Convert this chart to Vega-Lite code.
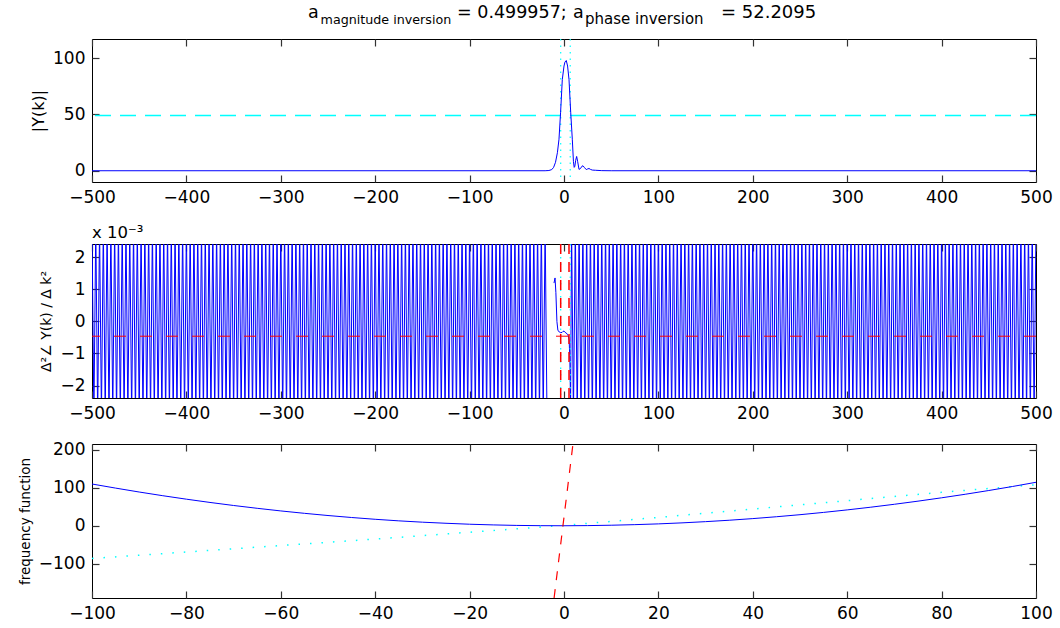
{
"$schema": "https://vega.github.io/schema/vega-lite/v6.json",
"padding": {"left": 17, "top": 3, "right": 0, "bottom": 0},
"background": "white",
"spacing": 18,
"config": {
  "font": "DejaVu Sans",
  "view": {"stroke": "black", "strokeWidth": 1},
  "axis": {"labelFont": "DejaVu Sans", "labelFontSize": 17, "labelColor": "black", "tickColor": "#333", "tickWidth": 1.2, "tickSize": -7, "labelPadding": 14, "domain": false, "grid": false, "labelFlush": false, "labelOverlap": false, "titleFont": "DejaVu Sans", "titleFontWeight": "normal", "titleColor": "black", "titleFontSize": 15, "titlePadding": 6},
  "title": {"font": "DejaVu Sans", "fontWeight": "normal", "color": "black"}
},
"datasets": {
  "p1": [{"k":-500,"m":0},{"k":-20,"m":0},{"k":-16,"m":0.2},{"k":-13,"m":1},{"k":-11,"m":3},{"k":-9,"m":7.5},{"k":-7,"m":16},{"k":-5.3,"m":28},{"k":-3.6,"m":52},{"k":-1.8,"m":81},{"k":0,"m":93},{"k":1,"m":96.5},{"k":2.4,"m":97.9},{"k":3.8,"m":93},{"k":5.3,"m":81},{"k":7.1,"m":52},{"k":8.8,"m":28},{"k":10,"m":8},{"k":10.8,"m":3},{"k":11.5,"m":4},{"k":12.3,"m":9},{"k":13.4,"m":12.7},{"k":14.5,"m":8},{"k":15.9,"m":1.2},{"k":17.5,"m":2},{"k":19,"m":4},{"k":20.1,"m":4.4},{"k":21.5,"m":3},{"k":23.6,"m":1},{"k":25,"m":1.6},{"k":26.5,"m":2},{"k":28,"m":1.2},{"k":30,"m":0.6},{"k":33.6,"m":0.4},{"k":40,"m":0.1},{"k":50,"m":0},{"k":500,"m":0}],
  "p2L": [
{"k":-500,"v":3},{"k":-498,"v":-3},{"k":-496,"v":3},{"k":-494,"v":-3},{"k":-492,"v":3},{"k":-490,"v":-3},{"k":-488,"v":3},{"k":-486,"v":-3},{"k":-484,"v":3},{"k":-482,"v":-3},
{"k":-480,"v":3},{"k":-478,"v":-3},{"k":-476,"v":3},{"k":-474,"v":-3},{"k":-472,"v":3},{"k":-470,"v":-3},{"k":-468,"v":3},{"k":-466,"v":-3},{"k":-464,"v":3},{"k":-462,"v":-3},
{"k":-460,"v":3},{"k":-458,"v":-3},{"k":-456,"v":3},{"k":-454,"v":-3},{"k":-452,"v":3},{"k":-450,"v":-3},{"k":-448,"v":3},{"k":-446,"v":-3},{"k":-444,"v":3},{"k":-442,"v":-3},
{"k":-440,"v":3},{"k":-438,"v":-3},{"k":-436,"v":3},{"k":-434,"v":-3},{"k":-432,"v":3},{"k":-430,"v":-3},{"k":-428,"v":3},{"k":-426,"v":-3},{"k":-424,"v":3},{"k":-422,"v":-3},
{"k":-420,"v":3},{"k":-418,"v":-3},{"k":-416,"v":3},{"k":-414,"v":-3},{"k":-412,"v":3},{"k":-410,"v":-3},{"k":-408,"v":3},{"k":-406,"v":-3},{"k":-404,"v":3},{"k":-402,"v":-3},
{"k":-400,"v":3},{"k":-398,"v":-3},{"k":-396,"v":3},{"k":-394,"v":-3},{"k":-392,"v":3},{"k":-390,"v":-3},{"k":-388,"v":3},{"k":-386,"v":-3},{"k":-384,"v":3},{"k":-382,"v":-3},
{"k":-380,"v":3},{"k":-378,"v":-3},{"k":-376,"v":3},{"k":-374,"v":-3},{"k":-372,"v":3},{"k":-370,"v":-3},{"k":-368,"v":3},{"k":-366,"v":-3},{"k":-364,"v":3},{"k":-362,"v":-3},
{"k":-360,"v":3},{"k":-358,"v":-3},{"k":-356,"v":3},{"k":-354,"v":-3},{"k":-352,"v":3},{"k":-350,"v":-3},{"k":-348,"v":3},{"k":-346,"v":-3},{"k":-344,"v":3},{"k":-342,"v":-3},
{"k":-340,"v":3},{"k":-338,"v":-3},{"k":-336,"v":3},{"k":-334,"v":-3},{"k":-332,"v":3},{"k":-330,"v":-3},{"k":-328,"v":3},{"k":-326,"v":-3},{"k":-324,"v":3},{"k":-322,"v":-3},
{"k":-320,"v":3},{"k":-318,"v":-3},{"k":-316,"v":3},{"k":-314,"v":-3},{"k":-312,"v":3},{"k":-310,"v":-3},{"k":-308,"v":3},{"k":-306,"v":-3},{"k":-304,"v":3},{"k":-302,"v":-3},
{"k":-300,"v":3},{"k":-298,"v":-3},{"k":-296,"v":3},{"k":-294,"v":-3},{"k":-292,"v":3},{"k":-290,"v":-3},{"k":-288,"v":3},{"k":-286,"v":-3},{"k":-284,"v":3},{"k":-282,"v":-3},
{"k":-280,"v":3},{"k":-278,"v":-3},{"k":-276,"v":3},{"k":-274,"v":-3},{"k":-272,"v":3},{"k":-270,"v":-3},{"k":-268,"v":3},{"k":-266,"v":-3},{"k":-264,"v":3},{"k":-262,"v":-3},
{"k":-260,"v":3},{"k":-258,"v":-3},{"k":-256,"v":3},{"k":-254,"v":-3},{"k":-252,"v":3},{"k":-250,"v":-3},{"k":-248,"v":3},{"k":-246,"v":-3},{"k":-244,"v":3},{"k":-242,"v":-3},
{"k":-240,"v":3},{"k":-238,"v":-3},{"k":-236,"v":3},{"k":-234,"v":-3},{"k":-232,"v":3},{"k":-230,"v":-3},{"k":-228,"v":3},{"k":-226,"v":-3},{"k":-224,"v":3},{"k":-222,"v":-3},
{"k":-220,"v":3},{"k":-218,"v":-3},{"k":-216,"v":3},{"k":-214,"v":-3},{"k":-212,"v":3},{"k":-210,"v":-3},{"k":-208,"v":3},{"k":-206,"v":-3},{"k":-204,"v":3},{"k":-202,"v":-3},
{"k":-200,"v":3},{"k":-198,"v":-3},{"k":-196,"v":3},{"k":-194,"v":-3},{"k":-192,"v":3},{"k":-190,"v":-3},{"k":-188,"v":3},{"k":-186,"v":-3},{"k":-184,"v":3},{"k":-182,"v":-3},
{"k":-180,"v":3},{"k":-178,"v":-3},{"k":-176,"v":3},{"k":-174,"v":-3},{"k":-172,"v":3},{"k":-170,"v":-3},{"k":-168,"v":3},{"k":-166,"v":-3},{"k":-164,"v":3},{"k":-162,"v":-3},
{"k":-160,"v":3},{"k":-158,"v":-3},{"k":-156,"v":3},{"k":-154,"v":-3},{"k":-152,"v":3},{"k":-150,"v":-3},{"k":-148,"v":3},{"k":-146,"v":-3},{"k":-144,"v":3},{"k":-142,"v":-3},
{"k":-140,"v":3},{"k":-138,"v":-3},{"k":-136,"v":3},{"k":-134,"v":-3},{"k":-132,"v":3},{"k":-130,"v":-3},{"k":-128,"v":3},{"k":-126,"v":-3},{"k":-124,"v":3},{"k":-122,"v":-3},
{"k":-120,"v":3},{"k":-118,"v":-3},{"k":-116,"v":3},{"k":-114,"v":-3},{"k":-112,"v":3},{"k":-110,"v":-3},{"k":-108,"v":3},{"k":-106,"v":-3},{"k":-104,"v":3},{"k":-102,"v":-3},
{"k":-100,"v":3},{"k":-98,"v":-3},{"k":-96,"v":3},{"k":-94,"v":-3},{"k":-92,"v":3},{"k":-90,"v":-3},{"k":-88,"v":3},{"k":-86,"v":-3},{"k":-84,"v":3},{"k":-82,"v":-3},
{"k":-80,"v":3},{"k":-78,"v":-3},{"k":-76,"v":3},{"k":-74,"v":-3},{"k":-72,"v":3},{"k":-70,"v":-3},{"k":-68,"v":3},{"k":-66,"v":-3},{"k":-64,"v":3},{"k":-62,"v":-3},
{"k":-60,"v":3},{"k":-58,"v":-3},{"k":-56,"v":3},{"k":-54,"v":-3},{"k":-52,"v":3},{"k":-50,"v":-3},{"k":-48,"v":3},{"k":-46,"v":-3},{"k":-44,"v":3},{"k":-42,"v":-3},
{"k":-40,"v":3},{"k":-38,"v":-3},{"k":-36,"v":3},{"k":-34,"v":-3},{"k":-32,"v":3},{"k":-30,"v":-3},{"k":-28,"v":3},{"k":-26,"v":-3},{"k":-24,"v":3},{"k":-22,"v":-3},
{"k":-20,"v":3},{"k":-18,"v":-3}],
  "p2R": [
{"k":-10.6,"v":1.2},{"k":-9.5,"v":1.36},{"k":-8.6,"v":0.9},{"k":-7.5,"v":0.0},{"k":-6.5,"v":-0.27},{"k":-5,"v":-0.33},{"k":-3.5,"v":-0.35},{"k":-2,"v":-0.34},{"k":-1,"v":-0.31},{"k":0,"v":-0.3},{"k":1.2,"v":-0.34},{"k":2.4,"v":-0.36},{"k":3.5,"v":-0.4},{"k":4.6,"v":-0.45},{"k":5.5,"v":-0.6},{"k":6.2,"v":-1.2},{"k":7,"v":-2.6},
{"k":8,"v":3},{"k":10,"v":-3},{"k":12,"v":3},{"k":14,"v":-3},{"k":16,"v":3},{"k":18,"v":-3},
{"k":20,"v":3},{"k":22,"v":-3},{"k":24,"v":3},{"k":26,"v":-3},{"k":28,"v":3},{"k":30,"v":-3},{"k":32,"v":3},{"k":34,"v":-3},{"k":36,"v":3},{"k":38,"v":-3},
{"k":40,"v":3},{"k":42,"v":-3},{"k":44,"v":3},{"k":46,"v":-3},{"k":48,"v":3},{"k":50,"v":-3},{"k":52,"v":3},{"k":54,"v":-3},{"k":56,"v":3},{"k":58,"v":-3},
{"k":60,"v":3},{"k":62,"v":-3},{"k":64,"v":3},{"k":66,"v":-3},{"k":68,"v":3},{"k":70,"v":-3},{"k":72,"v":3},{"k":74,"v":-3},{"k":76,"v":3},{"k":78,"v":-3},
{"k":80,"v":3},{"k":82,"v":-3},{"k":84,"v":3},{"k":86,"v":-3},{"k":88,"v":3},{"k":90,"v":-3},{"k":92,"v":3},{"k":94,"v":-3},{"k":96,"v":3},{"k":98,"v":-3},
{"k":100,"v":3},{"k":102,"v":-3},{"k":104,"v":3},{"k":106,"v":-3},{"k":108,"v":3},{"k":110,"v":-3},{"k":112,"v":3},{"k":114,"v":-3},{"k":116,"v":3},{"k":118,"v":-3},
{"k":120,"v":3},{"k":122,"v":-3},{"k":124,"v":3},{"k":126,"v":-3},{"k":128,"v":3},{"k":130,"v":-3},{"k":132,"v":3},{"k":134,"v":-3},{"k":136,"v":3},{"k":138,"v":-3},
{"k":140,"v":3},{"k":142,"v":-3},{"k":144,"v":3},{"k":146,"v":-3},{"k":148,"v":3},{"k":150,"v":-3},{"k":152,"v":3},{"k":154,"v":-3},{"k":156,"v":3},{"k":158,"v":-3},
{"k":160,"v":3},{"k":162,"v":-3},{"k":164,"v":3},{"k":166,"v":-3},{"k":168,"v":3},{"k":170,"v":-3},{"k":172,"v":3},{"k":174,"v":-3},{"k":176,"v":3},{"k":178,"v":-3},
{"k":180,"v":3},{"k":182,"v":-3},{"k":184,"v":3},{"k":186,"v":-3},{"k":188,"v":3},{"k":190,"v":-3},{"k":192,"v":3},{"k":194,"v":-3},{"k":196,"v":3},{"k":198,"v":-3},
{"k":200,"v":3},{"k":202,"v":-3},{"k":204,"v":3},{"k":206,"v":-3},{"k":208,"v":3},{"k":210,"v":-3},{"k":212,"v":3},{"k":214,"v":-3},{"k":216,"v":3},{"k":218,"v":-3},
{"k":220,"v":3},{"k":222,"v":-3},{"k":224,"v":3},{"k":226,"v":-3},{"k":228,"v":3},{"k":230,"v":-3},{"k":232,"v":3},{"k":234,"v":-3},{"k":236,"v":3},{"k":238,"v":-3},
{"k":240,"v":3},{"k":242,"v":-3},{"k":244,"v":3},{"k":246,"v":-3},{"k":248,"v":3},{"k":250,"v":-3},{"k":252,"v":3},{"k":254,"v":-3},{"k":256,"v":3},{"k":258,"v":-3},
{"k":260,"v":3},{"k":262,"v":-3},{"k":264,"v":3},{"k":266,"v":-3},{"k":268,"v":3},{"k":270,"v":-3},{"k":272,"v":3},{"k":274,"v":-3},{"k":276,"v":3},{"k":278,"v":-3},
{"k":280,"v":3},{"k":282,"v":-3},{"k":284,"v":3},{"k":286,"v":-3},{"k":288,"v":3},{"k":290,"v":-3},{"k":292,"v":3},{"k":294,"v":-3},{"k":296,"v":3},{"k":298,"v":-3},
{"k":300,"v":3},{"k":302,"v":-3},{"k":304,"v":3},{"k":306,"v":-3},{"k":308,"v":3},{"k":310,"v":-3},{"k":312,"v":3},{"k":314,"v":-3},{"k":316,"v":3},{"k":318,"v":-3},
{"k":320,"v":3},{"k":322,"v":-3},{"k":324,"v":3},{"k":326,"v":-3},{"k":328,"v":3},{"k":330,"v":-3},{"k":332,"v":3},{"k":334,"v":-3},{"k":336,"v":3},{"k":338,"v":-3},
{"k":340,"v":3},{"k":342,"v":-3},{"k":344,"v":3},{"k":346,"v":-3},{"k":348,"v":3},{"k":350,"v":-3},{"k":352,"v":3},{"k":354,"v":-3},{"k":356,"v":3},{"k":358,"v":-3},
{"k":360,"v":3},{"k":362,"v":-3},{"k":364,"v":3},{"k":366,"v":-3},{"k":368,"v":3},{"k":370,"v":-3},{"k":372,"v":3},{"k":374,"v":-3},{"k":376,"v":3},{"k":378,"v":-3},
{"k":380,"v":3},{"k":382,"v":-3},{"k":384,"v":3},{"k":386,"v":-3},{"k":388,"v":3},{"k":390,"v":-3},{"k":392,"v":3},{"k":394,"v":-3},{"k":396,"v":3},{"k":398,"v":-3},
{"k":400,"v":3},{"k":402,"v":-3},{"k":404,"v":3},{"k":406,"v":-3},{"k":408,"v":3},{"k":410,"v":-3},{"k":412,"v":3},{"k":414,"v":-3},{"k":416,"v":3},{"k":418,"v":-3},
{"k":420,"v":3},{"k":422,"v":-3},{"k":424,"v":3},{"k":426,"v":-3},{"k":428,"v":3},{"k":430,"v":-3},{"k":432,"v":3},{"k":434,"v":-3},{"k":436,"v":3},{"k":438,"v":-3},
{"k":440,"v":3},{"k":442,"v":-3},{"k":444,"v":3},{"k":446,"v":-3},{"k":448,"v":3},{"k":450,"v":-3},{"k":452,"v":3},{"k":454,"v":-3},{"k":456,"v":3},{"k":458,"v":-3},
{"k":460,"v":3},{"k":462,"v":-3},{"k":464,"v":3},{"k":466,"v":-3},{"k":468,"v":3},{"k":470,"v":-3},{"k":472,"v":3},{"k":474,"v":-3},{"k":476,"v":3},{"k":478,"v":-3},
{"k":480,"v":3},{"k":482,"v":-3},{"k":484,"v":3},{"k":486,"v":-3},{"k":488,"v":3},{"k":490,"v":-3},{"k":492,"v":3},{"k":494,"v":-3},{"k":496,"v":3},{"k":498,"v":-3},
{"k":500,"v":3}],
  "p3b": [{"k":-100,"f":109.8},{"k":-95,"f":99.0},{"k":-90,"f":88.7},{"k":-85,"f":79.0},{"k":-80,"f":69.9},{"k":-75,"f":61.3},{"k":-70,"f":53.3},{"k":-65,"f":45.9},{"k":-60,"f":39.0},{"k":-55,"f":32.7},{"k":-50,"f":26.9},{"k":-45,"f":21.7},{"k":-40,"f":17.0},{"k":-35,"f":12.9},{"k":-30,"f":9.4},{"k":-25,"f":6.5},{"k":-20,"f":4.0},{"k":-15,"f":2.2},{"k":-10,"f":0.9},{"k":-5,"f":0.2},{"k":0,"f":0.0},{"k":5,"f":0.4},{"k":10,"f":1.4},{"k":15,"f":2.9},{"k":20,"f":4.9},{"k":25,"f":7.6},{"k":30,"f":10.8},{"k":35,"f":14.5},{"k":40,"f":18.8},{"k":45,"f":23.7},{"k":50,"f":29.1},{"k":55,"f":35.1},{"k":60,"f":41.7},{"k":65,"f":48.8},{"k":70,"f":56.5},{"k":75,"f":64.7},{"k":80,"f":73.5},{"k":85,"f":82.8},{"k":90,"f":92.7},{"k":95,"f":103.2},{"k":100,"f":114.3}],
  "p3c": [{"k":-100,"f":-86},{"k":-80,"f":-69},{"k":-60,"f":-52},{"k":-40,"f":-35},{"k":-20,"f":-17},{"k":0,"f":1},{"k":20,"f":22},{"k":40,"f":44},{"k":60,"f":66},{"k":80,"f":88},{"k":100,"f":108}],
  "p3r": [{"k":-2.1,"f":-190},{"k":1.9,"f":215}]
},
"vconcat": [
 {
  "width": 944, "height": 143,
  "resolve": {"axis": {"x": "independent", "y": "independent"}},
  "layer": [
   {"data": {"values": [{"m": 48.95}]}, "mark": {"type": "rule", "color": "#00ffff", "strokeWidth": 1.5, "strokeDash": [16, 9]},
    "encoding": {"y": {"field": "m", "type": "quantitative", "scale": {"domain": [-10, 117], "nice": false, "zero": false}, "axis": null}}},
   {"data": {"values": [{"k": -3.5}, {"k": 6.6}]}, "mark": {"type": "rule", "color": "#00ffff", "strokeWidth": 1.2, "strokeDash": [1.5, 5]},
    "encoding": {"x": {"field": "k", "type": "quantitative", "scale": {"domain": [-500, 500], "nice": false, "zero": false}, "axis": null}}},
   {"data": {"name": "p1"}, "mark": {"type": "line", "color": "#0000ff", "strokeWidth": 1},
    "encoding": {
     "x": {"field": "k", "type": "quantitative", "scale": {"domain": [-500, 500], "nice": false, "zero": false}, "axis": {"orient": "bottom", "values": [-500,-400,-300,-200,-100,0,100,200,300,400,500], "title": null}},
     "y": {"field": "m", "type": "quantitative", "scale": {"domain": [-10, 117], "nice": false, "zero": false}, "axis": {"orient": "left", "values": [0, 50, 100], "title": "|Y(k)|", "titleFontSize": 16}}}},
   {"data": {"name": "p1"}, "mark": {"type": "line", "strokeOpacity": 0},
    "encoding": {
     "x": {"field": "k", "type": "quantitative", "scale": {"domain": [-500, 500], "nice": false, "zero": false}, "axis": {"orient": "top", "values": [-500,-400,-300,-200,-100,0,100,200,300,400,500], "labels": false, "title": null}},
     "y": {"field": "m", "type": "quantitative", "scale": {"domain": [-10, 117], "nice": false, "zero": false}, "axis": {"orient": "right", "values": [0, 50, 100], "labels": false, "title": null}}}},
   {"data": {"values": [{}]}, "mark": {"type": "text", "text": "a", "align": "left", "baseline": "alphabetic", "fontSize": 17.5, "color": "black"},
    "encoding": {"x": {"datum": -271.2, "type": "quantitative", "axis": null}, "y": {"datum": 135.6, "type": "quantitative", "axis": null}}},
   {"data": {"values": [{}]}, "mark": {"type": "text", "text": "magnitude inversion", "align": "left", "baseline": "alphabetic", "fontSize": 12.7, "color": "black"},
    "encoding": {"x": {"datum": -257.9, "type": "quantitative", "axis": null}, "y": {"datum": 130.3, "type": "quantitative", "axis": null}}},
   {"data": {"values": [{}]}, "mark": {"type": "text", "text": "= 0.499957;", "align": "left", "baseline": "alphabetic", "fontSize": 17.5, "color": "black"},
    "encoding": {"x": {"datum": -113.3, "type": "quantitative", "axis": null}, "y": {"datum": 135.6, "type": "quantitative", "axis": null}}},
   {"data": {"values": [{}]}, "mark": {"type": "text", "text": "a", "align": "left", "baseline": "alphabetic", "fontSize": 17.5, "color": "black"},
    "encoding": {"x": {"datum": 9.5, "type": "quantitative", "axis": null}, "y": {"datum": 135.6, "type": "quantitative", "axis": null}}},
   {"data": {"values": [{}]}, "mark": {"type": "text", "text": "phase inversion", "align": "left", "baseline": "alphabetic", "fontSize": 15, "color": "black"},
    "encoding": {"x": {"datum": 22.2, "type": "quantitative", "axis": null}, "y": {"datum": 130.3, "type": "quantitative", "axis": null}}},
   {"data": {"values": [{}]}, "mark": {"type": "text", "text": "= 52.2095", "align": "left", "baseline": "alphabetic", "fontSize": 18, "color": "black"},
    "encoding": {"x": {"datum": 166.3, "type": "quantitative", "axis": null}, "y": {"datum": 135.6, "type": "quantitative", "axis": null}}}
  ]
 },
 {
  "width": 944, "height": 154,
  "title": {"text": "x 10⁻³", "anchor": "start", "frame": "group", "fontSize": 16.5, "offset": 2},
  "resolve": {"axis": {"x": "independent", "y": "independent"}},
  "layer": [
   {"data": {"name": "p2L"}, "mark": {"type": "line", "color": "#0000ff", "strokeWidth": 1, "clip": true},
    "encoding": {
     "x": {"field": "k", "type": "quantitative", "scale": {"domain": [-500, 500], "nice": false, "zero": false}, "axis": {"orient": "bottom", "values": [-500,-400,-300,-200,-100,0,100,200,300,400,500], "title": null}},
     "y": {"field": "v", "type": "quantitative", "scale": {"domain": [-2.39, 2.42], "nice": false, "zero": false}, "axis": {"orient": "left", "values": [-2,-1,0,1,2], "title": "Δ²∠ Y(k) / Δ k²", "titleFontSize": 14}}}},
   {"data": {"name": "p2R"}, "mark": {"type": "line", "color": "#0000ff", "strokeWidth": 1, "clip": true},
    "encoding": {
     "x": {"field": "k", "type": "quantitative", "scale": {"domain": [-500, 500], "nice": false, "zero": false}, "axis": null},
     "y": {"field": "v", "type": "quantitative", "scale": {"domain": [-2.39, 2.42], "nice": false, "zero": false}, "axis": null}}},
   {"data": {"name": "p2L"}, "mark": {"type": "line", "strokeOpacity": 0, "clip": true},
    "encoding": {
     "x": {"field": "k", "type": "quantitative", "scale": {"domain": [-500, 500], "nice": false, "zero": false}, "axis": {"orient": "top", "values": [-500,-400,-300,-200,-100,0,100,200,300,400,500], "labels": false, "title": null}},
     "y": {"field": "v", "type": "quantitative", "scale": {"domain": [-2.39, 2.42], "nice": false, "zero": false}, "axis": {"orient": "right", "values": [-2,-1,0,1,2], "labels": false, "title": null}}}},
   {"data": {"values": [{"v": -0.46}]}, "mark": {"type": "rule", "color": "#ff0000", "strokeWidth": 1, "strokeDash": [12, 14]},
    "encoding": {"y": {"field": "v", "type": "quantitative", "axis": null}}},
   {"data": {"values": [{"k": -3.5}, {"k": 6.6}]}, "mark": {"type": "rule", "color": "#00ffff", "strokeWidth": 1.2, "strokeDash": [1.5, 5]},
    "encoding": {"x": {"field": "k", "type": "quantitative", "axis": null}}},
   {"data": {"values": [{"k": -3.5}, {"k": 5.3}]}, "mark": {"type": "rule", "color": "#ff0000", "strokeWidth": 1.5, "strokeDash": [10, 8]},
    "encoding": {"x": {"field": "k", "type": "quantitative", "axis": null}}}
  ]
 },
 {
  "width": 944, "height": 154,
  "resolve": {"axis": {"x": "independent", "y": "independent"}},
  "layer": [
   {"data": {"name": "p3c"}, "mark": {"type": "line", "color": "#00ffff", "strokeWidth": 1.5, "strokeDash": [1.5, 10]},
    "encoding": {
     "x": {"field": "k", "type": "quantitative", "scale": {"domain": [-100, 100], "nice": false, "zero": false}, "axis": null},
     "y": {"field": "f", "type": "quantitative", "scale": {"domain": [-190, 215], "nice": false, "zero": false}, "axis": null}}},
   {"data": {"name": "p3b"}, "mark": {"type": "line", "color": "#0000ff", "strokeWidth": 1},
    "encoding": {
     "x": {"field": "k", "type": "quantitative", "scale": {"domain": [-100, 100], "nice": false, "zero": false}, "axis": {"orient": "bottom", "values": [-100,-80,-60,-40,-20,0,20,40,60,80,100], "title": null}},
     "y": {"field": "f", "type": "quantitative", "scale": {"domain": [-190, 215], "nice": false, "zero": false}, "axis": {"orient": "left", "values": [-100, 0, 100, 200], "title": "frequency function", "titleFontSize": 13.5}}}},
   {"data": {"name": "p3b"}, "mark": {"type": "line", "strokeOpacity": 0},
    "encoding": {
     "x": {"field": "k", "type": "quantitative", "scale": {"domain": [-100, 100], "nice": false, "zero": false}, "axis": {"orient": "top", "values": [-100,-80,-60,-40,-20,0,20,40,60,80,100], "labels": false, "title": null}},
     "y": {"field": "f", "type": "quantitative", "scale": {"domain": [-190, 215], "nice": false, "zero": false}, "axis": {"orient": "right", "values": [-100, 0, 100, 200], "labels": false, "title": null}}}},
   {"data": {"name": "p3r"}, "mark": {"type": "line", "color": "#ff0000", "strokeWidth": 1.2, "strokeDash": [9, 9], "clip": true},
    "encoding": {
     "x": {"field": "k", "type": "quantitative", "scale": {"domain": [-100, 100], "nice": false, "zero": false}, "axis": null},
     "y": {"field": "f", "type": "quantitative", "scale": {"domain": [-190, 215], "nice": false, "zero": false}, "axis": null}}}
  ]
 }
]
}
